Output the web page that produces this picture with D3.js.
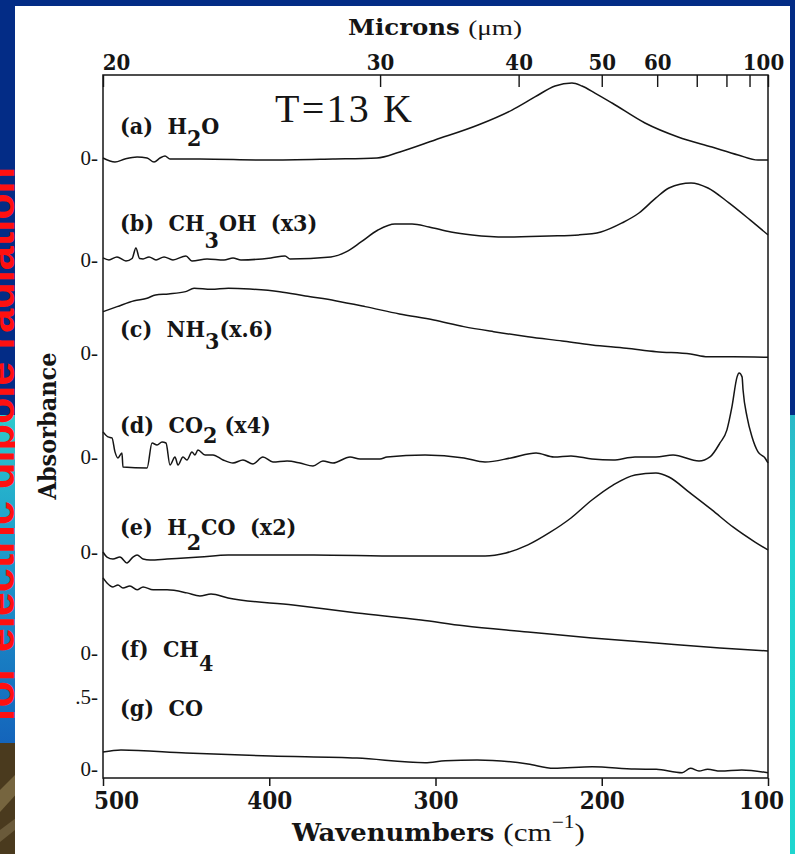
<!DOCTYPE html>
<html><head><meta charset="utf-8">
<script src="https://cdn.jsdelivr.net/npm/d3@7"></script>
<style>
html,body{margin:0;padding:0;background:#fff;}
svg{display:block;}
</style></head><body>
<svg id="c" width="795" height="854"></svg>
<script>
// ---------- data (wavenumber cm^-1, absorbance relative to each trace's zero) ----------
const wavenumberTicks = [500, 400, 300, 200, 100];
const micronTicks = [20, 30, 40, 50, 60, 70, 80, 90, 100];
const micronLabels = ["20", "30", "40", "50", "60", "", "", "", "100"];
const zeroLabels = ["0-", "0-", "0-", "0-", "0-", "0-", "0-", ".5-"];
const traceOffsets = [4.243, 3.535, 2.889, 2.167, 1.507, 0.806, 0];

const h2o = [[500,0],[492.8,-0.028],[486.8,-0.007],[479.5,0.007],[473.5,0],[469.3,-0.028],[465.7,0],[462.7,0.014],[459.7,-0.007],[441.7,-0.007],[401.4,-0.014],[361.7,-0.007],[335.2,0],[321.4,0.042],[300.3,0.125],[274.4,0.229],[254,0.333],[240.2,0.424],[228.1,0.5],[217.9,0.521],[211.9,0.5],[204.1,0.451],[193.8,0.382],[174,0.243],[154.1,0.146],[133.7,0.076],[118,0.021],[106,-0.014],[100,-0.014]];

const ch3oh = [[500,0.014],[496.4,0],[491.6,0.021],[486.2,-0.007],[482.5,0.01],[480.2,0.083],[478,0.01],[475.9,0.007],[472.3,0.021],[468.1,0],[463.3,0.021],[457.9,0],[450.1,0.028],[446.5,-0.007],[437.4,0.007],[427.2,0],[421.8,0.014],[417,0],[399,0.014],[390.5,0.028],[387.5,0.007],[362.9,0.021],[353.8,0.056],[344.8,0.125],[334.6,0.208],[324.4,0.25],[314.1,0.25],[303.9,0.229],[290.7,0.194],[278,0.174],[257.6,0.16],[231.7,0.167],[213.7,0.174],[200.5,0.194],[187.8,0.257],[177.6,0.326],[167.4,0.431],[159.6,0.5],[146.3,0.535],[136.1,0.5],[123.5,0.396],[110.8,0.278],[100,0.174]];

const nh3 = [[500,0.287],[491.5,0.322],[481.2,0.363],[473.5,0.38],[468.4,0.403],[460.6,0.41],[450.3,0.426],[445.2,0.449],[434.9,0.442],[424.6,0.449],[411.7,0.444],[393.7,0.426],[378.3,0.396],[360.3,0.363],[342.3,0.322],[321.7,0.271],[301,0.229],[283,0.183],[265,0.148],[244.4,0.113],[223.8,0.083],[205.8,0.056],[185.2,0.033],[167.2,0.009],[146.6,-0.007],[136.3,-0.026],[120.9,-0.026],[100,-0.03]];

const co2 = [[500,0.174],[497,0.139],[494.6,0.132],[492.8,0.035],[491,-0.007],[488.6,0.028],[488,-0.069],[473.5,-0.076],[470.5,0.097],[467.5,0.083],[464.5,0.104],[462.1,0.097],[459.7,-0.056],[456.7,0],[454.9,-0.056],[451.9,0],[449.5,-0.021],[446.5,0.035],[444.7,0.014],[442.9,0.049],[438.6,0.014],[433.8,0.014],[427.8,-0.021],[421.8,-0.042],[415.8,-0.021],[409.8,-0.049],[403.8,0],[397.8,-0.035],[389.3,-0.028],[381.5,-0.042],[373.7,-0.063],[367.7,-0.028],[361.7,-0.042],[351.4,0],[345.4,-0.014],[333.4,-0.014],[329.2,0],[306.3,0.014],[282.9,-0.007],[270.2,-0.035],[254.6,-0.007],[239.5,0.028],[228.7,0],[218.5,0.007],[205.9,-0.014],[193.2,-0.021],[180,0],[167.4,0],[157.1,0.014],[141.5,-0.028],[134.9,0],[128.9,0.097],[124.7,0.188],[121.7,0.347],[118.6,0.556],[117.4,0.583],[115.6,0.556],[115,0.465],[112.6,0.278],[109.6,0.139],[106,0.035],[101.8,-0.007],[100,-0.042]];

const h2co = [[500,0],[497.6,-0.035],[494,-0.049],[489.8,-0.035],[485.6,-0.076],[482,-0.035],[479.5,-0.021],[475.9,-0.049],[471.7,-0.056],[461.5,-0.049],[441.7,-0.035],[424.8,-0.021],[373.1,-0.021],[321.4,-0.028],[270.2,-0.028],[257.6,-0.007],[244.4,0.049],[231.7,0.132],[218.5,0.236],[205.9,0.361],[193.2,0.465],[180,0.535],[167.4,0.549],[159.6,0.521],[146.9,0.41],[133.7,0.292],[121.1,0.174],[107.8,0.069],[100,0.014]];

const ch4 = [[500,0.521],[497.6,0.486],[494,0.458],[491,0.472],[488,0.451],[483.8,0.465],[479.5,0.438],[475.9,0.458],[469.9,0.438],[461.5,0.438],[449.5,0.417],[441.7,0.396],[435,0.41],[424.8,0.382],[385.7,0.333],[347.2,0.278],[308.7,0.229],[282.9,0.188],[244.4,0.146],[205.9,0.104],[167.4,0.069],[128.9,0.035],[100,0.014]];

const co = [[500,0.118],[489.2,0.132],[450.1,0.111],[399,0.09],[347.2,0.076],[306.3,0.044],[294.1,0.058],[275,0.063],[244.4,0.035],[228.9,0.005],[205.8,0.016],[180.1,0],[167.2,-0.002],[151.7,-0.026],[146.6,0.005],[141.5,-0.014],[136.3,-0.002],[128.6,-0.014],[115.8,-0.007],[100,-0.026]];

const traces = [h2o, ch3oh, nh3, co2, h2co, ch4, co];

// label pieces: [text, isSubscript]
const traceLabels = [
  [["(a)  H",0],["2",1],["O",0]],
  [["(b)  CH",0],["3",1],["OH  (x3)",0]],
  [["(c)  NH",0],["3",1],["(x.6)",0]],
  [["(d)  CO",0],["2",1],[" (x4)",0]],
  [["(e)  H",0],["2",1],["CO  (x2)",0]],
  [["(f)  CH",0],["4",1]],
  [["(g)  CO",0]]
];

// ---------- layout ----------
const W = 795, H = 854;
const pL = 103, pR = 768, pT = 75, pB = 778;
const labelBaselines = [134, 231, 337, 433, 535, 657, 716];
const subDrops = [12, 17, 12, 10, 15, 14, 0];
const boldFont = "'DejaVu Serif Condensed','DejaVu Serif',serif";
const romanFont = "'Liberation Serif','Times New Roman',serif";
const ink = "#151515";

const svg = d3.select("#c");

// ---------- slide background ----------
const defs = svg.append("defs");
const g1 = defs.append("linearGradient").attr("id","lg").attr("x1",0).attr("x2",0).attr("y1",0).attr("y2",1);
g1.append("stop").attr("offset","0%").attr("stop-color","#2ec9cc");
g1.append("stop").attr("offset","40%").attr("stop-color","#1e9ccb");
g1.append("stop").attr("offset","100%").attr("stop-color","#1464bb");
const g2 = defs.append("linearGradient").attr("id","rg").attr("x1",0).attr("x2",0).attr("y1",0).attr("y2",1);
g2.append("stop").attr("offset","0%").attr("stop-color","#2bb8c8");
g2.append("stop").attr("offset","30%").attr("stop-color","#22d2d0");
g2.append("stop").attr("offset","100%").attr("stop-color","#1fd6cf");

svg.append("rect").attr("width",W).attr("height",H).attr("fill","#032c86");
svg.append("rect").attr("x",0).attr("y",415).attr("width",20).attr("height",330).attr("fill","url(#lg)");
svg.append("rect").attr("x",0).attr("y",743).attr("width",20).attr("height",111).attr("fill","#4a3a1e");
svg.append("path").attr("d","M0,790 L20,770 L20,790 L0,812 Z").attr("fill","#76653f");
svg.append("path").attr("d","M0,830 L20,815 L20,826 L0,842 Z").attr("fill","#6a5a3a");
svg.append("rect").attr("x",780).attr("y",415).attr("width",15).attr("height",439).attr("fill","url(#rg)");
svg.append("text")
  .attr("transform","translate(14,722) rotate(-90)")
  .attr("font-family","'Liberation Sans',Arial,sans-serif")
  .attr("font-weight","bold").attr("font-size",43).attr("fill","#ff1010")
  .attr("textLength",555).attr("lengthAdjust","spacingAndGlyphs")
  .text("for electric dipole radiation");

// white page
svg.append("rect").attr("x",15).attr("y",6).attr("width",775).attr("height",848).attr("fill","#ffffff");

// ---------- scales ----------
const x = d3.scaleLinear().domain([500, 100]).range([pL, pR]);
const y = d3.scaleLinear().domain([-0.0625, 4.8194]).range([pB, pT]);

// ---------- traces ----------
const line = d3.line().curve(d3.curveMonotoneX);
traces.forEach((t, i) => {
  svg.append("path")
    .attr("d", line(t.map(d => [x(d[0]), y(d[1] + traceOffsets[i])])))
    .attr("fill","none").attr("stroke",ink).attr("stroke-width",1.5)
    .attr("stroke-linejoin","round");
});

// ---------- frame ----------
svg.append("rect").attr("x",pL).attr("y",pT).attr("width",pR-pL).attr("height",pB-pT)
  .attr("fill","none").attr("stroke",ink).attr("stroke-width",1.5);

// bottom axis
const bAx = svg.append("g").attr("transform",`translate(0,${pB})`)
  .call(d3.axisBottom(x).tickValues(wavenumberTicks).tickSize(8).tickPadding(6).tickFormat(d3.format("d")));
bAx.select(".domain").remove();
bAx.selectAll("line").attr("stroke",ink).attr("stroke-width",1.5);
bAx.selectAll("text").attr("font-family",boldFont).attr("font-weight","bold").attr("font-size",24).attr("fill",ink)
  .attr("dx",(d,i)=> i===0 ? 13 : (i===wavenumberTicks.length-1 ? -7 : 0));

// top axis (microns)
const tAx = svg.append("g").attr("transform",`translate(0,${pT})`)
  .call(d3.axisTop(x).tickValues(micronTicks.map(m => 1e4/m)).tickSizeInner(-12).tickSizeOuter(0).tickPadding(5)
    .tickFormat((d,i) => micronLabels[i]));
tAx.select(".domain").remove();
tAx.selectAll("line").attr("stroke",ink).attr("stroke-width",1.4);
tAx.selectAll("text").attr("font-family",boldFont).attr("font-weight","bold").attr("font-size",22).attr("fill",ink)
  .attr("dx",(d,i)=> i===0 ? 13 : (i===micronTicks.length-1 ? -5 : 0));

// left zero labels
const lAx = svg.append("g").attr("transform",`translate(${pL},0)`)
  .call(d3.axisLeft(y).tickValues([...traceOffsets, 0.5]).tickSize(0).tickPadding(5)
    .tickFormat((d,i) => zeroLabels[i]));
lAx.select(".domain").remove();
lAx.selectAll("text").attr("font-family",romanFont).attr("font-size",21).attr("fill",ink);

// ---------- titles ----------
const mt = svg.append("text").attr("x",348).attr("y",35).attr("fill",ink)
  .attr("font-size",22).attr("textLength",174).attr("lengthAdjust","spacingAndGlyphs");
mt.append("tspan").attr("font-family",boldFont).attr("font-weight","bold").text("Microns ");
mt.append("tspan").attr("font-family",romanFont).text("(\u03BCm)");

const wt = svg.append("text").attr("x",292).attr("y",841).attr("fill",ink).attr("font-size",24)
  .attr("textLength",293).attr("lengthAdjust","spacingAndGlyphs");
wt.append("tspan").attr("font-family",boldFont).attr("font-weight","bold").text("Wavenumbers ");
wt.append("tspan").attr("font-family",romanFont).attr("font-size",26).text("(cm");
wt.append("tspan").attr("font-family",romanFont).attr("font-size",18).attr("dy",-13).text("\u22121");
wt.append("tspan").attr("font-family",romanFont).attr("font-size",26).attr("dy",13).text(")");

svg.append("text").attr("transform","translate(56,426) rotate(-90)").attr("text-anchor","middle")
  .attr("font-family",boldFont).attr("font-weight","bold").attr("font-size",24).attr("fill",ink)
  .attr("textLength",147).attr("lengthAdjust","spacingAndGlyphs").text("Absorbance");

svg.append("text").attr("x",275).attr("y",122).attr("font-family",romanFont).attr("font-size",40).attr("fill",ink)
  .attr("textLength",137).attr("lengthAdjust","spacing").text("T=13 K");

// ---------- trace labels ----------
traceLabels.forEach((parts, i) => {
  const t = svg.append("text").attr("x",120).attr("y",labelBaselines[i])
    .attr("font-family",boldFont).attr("font-weight","bold").attr("font-size",23).attr("fill",ink)
    .style("white-space","pre");
  let down = 0;
  parts.forEach(p => {
    const target = p[1] ? subDrops[i] : 0;
    t.append("tspan").attr("dy", target - down).text(p[0]);
    down = target;
  });
});
</script>
</body></html>
